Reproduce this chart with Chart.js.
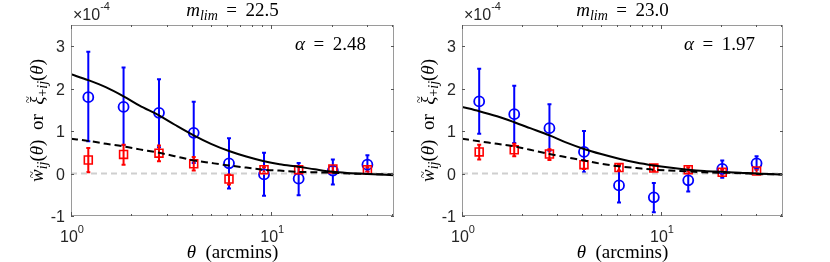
<!DOCTYPE html>
<html>
<head>
<meta charset="utf-8">
<script src="https://cdn.jsdelivr.net/npm/chart.js@4"></script>
<style>
  body { margin: 0; background: #fff; }
  #wrap { position: relative; width: 830px; height: 262px; }
  canvas { position: absolute; top: 0; }
</style>
</head>
<body>
<div id="wrap">
  <canvas id="left" width="415" height="262" style="left:0;width:415px;height:262px"></canvas>
  <canvas id="right" width="415" height="262" style="left:415px;width:415px;height:262px"></canvas>
</div>
<script>
// angular bins (arcmin)
const thetaBins = [1.22, 1.83, 2.75, 4.1, 6.15, 9.2, 13.7, 20.3, 30.2];
// model curve sample points (arcmin)
const modelTheta = [1, 1.22, 1.5, 1.83, 2.2, 2.75, 3.3, 4.1, 5, 6.15, 7.5, 9.2, 11, 13.7, 16.5, 20.3, 25, 30.2, 41];

// m_lim = 22.5  (units of 1e-4)
const wA = [1.80, 1.57, 1.43, 0.96, 0.24, -0.02, -0.12, 0.07, 0.21];
const wALo = [0.76, 0.67, 0.62, 0.25, -0.35, -0.52, -0.51, -0.26, 0.05];
const wAHi = [2.87, 2.50, 2.22, 1.69, 0.83, 0.49, 0.25, 0.33, 0.43];
const xiA = [0.32, 0.45, 0.48, 0.23, -0.13, 0.09, 0.09, 0.11, 0.09];
const xiALo = [0.03, 0.21, 0.29, 0.07, -0.26, 0.02, 0.0, 0.04, 0.04];
const xiAHi = [0.60, 0.68, 0.66, 0.39, -0.02, 0.15, 0.16, 0.17, 0.15];
const modelWA = [2.34, 2.20, 2.03, 1.82, 1.60, 1.37, 1.15, 0.90, 0.70, 0.53, 0.40, 0.29, 0.22, 0.16, 0.10, 0.04, 0.01, -0.01, -0.04];
const modelXiA = [0.82, 0.77, 0.70, 0.64, 0.57, 0.49, 0.41, 0.31, 0.25, 0.19, 0.14, 0.09, 0.07, 0.04, 0.03, 0.02, 0.0, -0.01, -0.02];

// m_lim = 23.0
const wB = [1.70, 1.40, 1.07, 0.51, -0.28, -0.56, -0.16, 0.11, 0.24];
const wBLo = [0.94, 0.72, 0.54, 0.03, -0.68, -0.91, -0.42, -0.10, 0.09];
const wBHi = [2.47, 2.07, 1.63, 1.00, 0.19, -0.22, 0.09, 0.31, 0.41];
const xiB = [0.51, 0.56, 0.46, 0.21, 0.14, 0.13, 0.09, 0.03, 0.06];
const xiBLo = [0.33, 0.41, 0.32, 0.11, 0.07, 0.06, 0.03, -0.02, 0.0];
const xiBHi = [0.68, 0.70, 0.57, 0.31, 0.20, 0.19, 0.15, 0.09, 0.11];
const modelWB = [1.57, 1.47, 1.35, 1.21, 1.07, 0.90, 0.74, 0.58, 0.46, 0.35, 0.26, 0.19, 0.14, 0.09, 0.06, 0.04, 0.02, 0.0, -0.02];
const modelXiB = [0.82, 0.76, 0.70, 0.64, 0.56, 0.46, 0.39, 0.31, 0.23, 0.17, 0.13, 0.09, 0.07, 0.05, 0.03, 0.02, 0.01, -0.01, -0.02];

const yTicks = [-1, 0, 1, 2, 3];
const xMajor = [1, 10];
const xMinor = [2, 3, 4, 5, 6, 7, 8, 9, 20, 30, 40];
const X_MIN = 1, X_MAX = 41, Y_MIN = -1, Y_MAX = 3.5;

const SANS = '"Liberation Sans", Arial, sans-serif';
const SERIF = '"Liberation Serif", "Times New Roman", serif';
const TXT = '#262626';
const EQ = ' \u2009=\u2009 ';

// parts: [text, font, dy, tildeLift]
function drawParts(ctx, parts, x, y, align) {
  let total = 0;
  parts.forEach(p => { ctx.font = p[1]; total += ctx.measureText(p[0]).width; });
  let cx = align === 'center' ? x - total / 2 : (align === 'right' ? x - total : x);
  ctx.textAlign = 'left';
  parts.forEach(p => {
    ctx.font = p[1];
    const w = ctx.measureText(p[0]).width;
    ctx.fillText(p[0], cx, y + (p[2] || 0));
    if (p[3]) {
      ctx.font = '13px ' + SERIF;
      ctx.textAlign = 'center';
      ctx.fillText('~', cx + w / 2 + 1, y - p[3]);
      ctx.textAlign = 'left';
    }
    cx += w;
  });
}

const panelDecor = {
  id: 'panelDecor',
  beforeDatasetsDraw(chart, args, opts) {
    const ctx = chart.ctx, xs = chart.scales.x, ys = chart.scales.y;
    ctx.save();
    // error bars
    opts.bars.forEach(b => {
      ctx.strokeStyle = b.color;
      ctx.lineWidth = 2;
      thetaBins.forEach((t, i) => {
        const px = xs.getPixelForValue(t);
        const y1 = ys.getPixelForValue(b.lo[i]);
        const y2 = ys.getPixelForValue(b.hi[i]);
        ctx.beginPath();
        ctx.moveTo(px, y1); ctx.lineTo(px, y2);
        ctx.moveTo(px - 2, y1); ctx.lineTo(px + 2, y1);
        ctx.moveTo(px - 2, y2); ctx.lineTo(px + 2, y2);
        ctx.stroke();
      });
    });
    ctx.restore();
  },
  afterDraw(chart, args, opts) {
    const ctx = chart.ctx, xs = chart.scales.x, ys = chart.scales.y;
    const a = chart.chartArea;
    ctx.save();
    // box
    ctx.strokeStyle = '#9a9a9a';
    ctx.lineWidth = 1;
    ctx.strokeRect(a.left + 0.5, a.top + 0.5, a.right - a.left - 1, a.bottom - a.top - 1);
    // ticks
    ctx.strokeStyle = '#555';
    ctx.beginPath();
    yTicks.forEach(v => {
      const py = Math.round(ys.getPixelForValue(v)) + 0.5;
      ctx.moveTo(a.left, py); ctx.lineTo(a.left + 3, py);
      ctx.moveTo(a.right, py); ctx.lineTo(a.right - 3, py);
    });
    xMajor.concat(xMinor).forEach(v => {
      const len = xMajor.includes(v) ? 4 : 2;
      const px = Math.round(xs.getPixelForValue(v)) + 0.5;
      ctx.moveTo(px, a.bottom); ctx.lineTo(px, a.bottom - len);
      ctx.moveTo(px, a.top); ctx.lineTo(px, a.top + len);
    });
    ctx.stroke();

    ctx.fillStyle = TXT;
    ctx.textBaseline = 'alphabetic';
    // y tick labels
    ctx.font = '16px ' + SANS;
    ctx.textAlign = 'right';
    yTicks.forEach(v => ctx.fillText(String(v), a.left - 6, ys.getPixelForValue(v) + 6));
    // x tick labels 10^n
    xMajor.forEach((v, n) => {
      drawParts(ctx, [['10', '16px ' + SANS], [String(n), '11px ' + SANS, -9]], xs.getPixelForValue(v) + 1, 242, 'center');
    });
    // multiplier
    drawParts(ctx, [['\u00d710', '16px ' + SANS], ['-4', '11px ' + SANS, -10]], a.left + 2, 20, 'left');

    ctx.fillStyle = '#000';
    const mi = 'italic 19px ' + SERIF, mr = '19px ' + SERIF, si = 'italic 14px ' + SERIF, sr = '14px ' + SERIF;
    // title
    drawParts(ctx, [['m', mi], ['lim', si, 4], [EQ + opts.mlim, mr]], (a.left + a.right) / 2, 16, 'center');
    // alpha
    drawParts(ctx, [['\u03b1', mi], [EQ + opts.alpha, mr]], a.right - 28, 50, 'right');
    // x label
    drawParts(ctx, [['\u03b8', mi], ['  (arcmins)', mr]], (a.left + a.right) / 2, 258, 'center');
    // y label
    ctx.translate(opts.ylabelX, (a.top + a.bottom) / 2);
    ctx.rotate(-Math.PI / 2);
    drawParts(ctx, [
      ['w', mi, 0, 7], ['ij', si, 4], ['(', mr], ['\u03b8', mi], [')', mr], ['  or  ', mr],
      ['\u03be', mi, 0, 11], ['+', sr, 4], ['ij', si, 4], ['(', mr], ['\u03b8', mi], [')', mr]
    ], 0, 6, 'center');
    ctx.restore();
  }
};

function pts(xs, ys) { return xs.map((x, i) => ({ x: x, y: ys[i] })); }

function makePanel(id, pad, cfg) {
  return new Chart(document.getElementById(id), {
    type: 'scatter',
    data: {
      datasets: [
        { type: 'line', data: pts(modelTheta, cfg.modelW), borderColor: '#000', borderWidth: 2,
          pointRadius: 0, cubicInterpolationMode: 'monotone', order: 0 },
        { type: 'line', data: pts(modelTheta, cfg.modelXi), borderColor: '#000', borderWidth: 2,
          borderDash: [7, 4], pointRadius: 0, cubicInterpolationMode: 'monotone', order: 0 },
        { data: pts(thetaBins, cfg.xi), pointStyle: 'rect', pointRadius: 5.6, borderColor: '#ff0000',
          backgroundColor: 'rgba(0,0,0,0)', pointBorderWidth: 1.6, order: 1 },
        { data: pts(thetaBins, cfg.w), pointStyle: 'circle', pointRadius: 5, borderColor: '#0000ff',
          backgroundColor: 'rgba(0,0,0,0)', pointBorderWidth: 1.8, order: 2 },
        { type: 'line', data: [{ x: X_MIN, y: 0 }, { x: X_MAX, y: 0 }], borderColor: '#cfcfcf', borderWidth: 2,
          borderDash: [6, 4], pointRadius: 0, order: 3 }
      ]
    },
    options: {
      responsive: false,
      animation: false,
      devicePixelRatio: 1,
      layout: { padding: pad },
      scales: {
        x: { type: 'logarithmic', min: X_MIN, max: X_MAX, display: false },
        y: { type: 'linear', min: Y_MIN, max: Y_MAX, display: false }
      },
      plugins: {
        legend: { display: false },
        tooltip: { enabled: false },
        panelDecor: {
          mlim: cfg.mlim, alpha: cfg.alpha, ylabelX: cfg.ylabelX,
          bars: [
            { color: '#0000ff', lo: cfg.wLo, hi: cfg.wHi },
            { color: '#ff0000', lo: cfg.xiLo, hi: cfg.xiHi }
          ]
        }
      }
    },
    plugins: [panelDecor]
  });
}

makePanel('left', { left: 71, right: 21, top: 25, bottom: 46 }, {
  mlim: '22.5', alpha: '2.48', ylabelX: 37,
  w: wA, wLo: wALo, wHi: wAHi, xi: xiA, xiLo: xiALo, xiHi: xiAHi, modelW: modelWA, modelXi: modelXiA
});
makePanel('right', { left: 47, right: 47, top: 25, bottom: 46 }, {
  mlim: '23.0', alpha: '1.97', ylabelX: 13,
  w: wB, wLo: wBLo, wHi: wBHi, xi: xiB, xiLo: xiBLo, xiHi: xiBHi, modelW: modelWB, modelXi: modelXiB
});
</script>
</body>
</html>
